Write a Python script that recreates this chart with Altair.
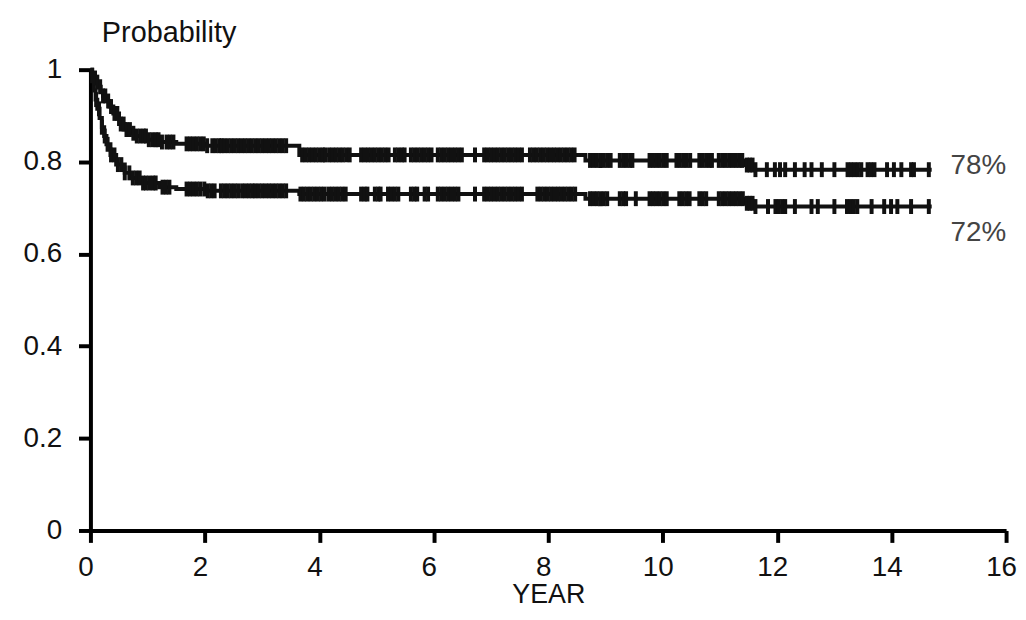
import altair as alt
import pandas as pd
import numpy as np

# Kaplan-Meier step curves (time in years, survival probability)
upper_t = [0, 0.03, 0.06, 0.1, 0.14, 0.18, 0.22, 0.27, 0.33, 0.4, 0.5, 0.6, 0.7, 0.8, 1.0, 1.2, 1.5, 2.0, 3.65, 8.65, 11.45, 11.6, 14.7]
upper_s = [1, 0.99, 0.982, 0.973, 0.963, 0.953, 0.943, 0.932, 0.92, 0.905, 0.882, 0.87, 0.862, 0.856, 0.848, 0.843, 0.839, 0.835, 0.815, 0.803, 0.793, 0.783, 0.783]

lower_t = [0, 0.03, 0.06, 0.09, 0.12, 0.16, 0.2, 0.24, 0.28, 0.35, 0.45, 0.6, 0.73, 0.9, 1.2, 1.5, 2.0, 3.65, 8.65, 11.45, 11.6, 14.7]
lower_s = [1, 0.975, 0.955, 0.935, 0.915, 0.895, 0.875, 0.856, 0.838, 0.815, 0.794, 0.776, 0.765, 0.754, 0.745, 0.741, 0.737, 0.73, 0.72, 0.71, 0.703, 0.703]

# Censoring times (tick marks on the curves)
upper_cens = [0.08, 0.12, 0.17, 0.22, 0.26, 0.31, 0.36, 0.42, 0.47, 0.53, 0.58,
              0.63, 0.69, 0.75, 0.81, 0.87, 0.93, 0.97,
              1.02, 1.08, 1.14, 1.19, 1.25, 1.33, 1.39, 1.45,
              1.68, 1.74, 1.8, 1.86, 1.92, 1.98, 2.04,
              2.13, 2.19, 2.25, 2.29,
              2.34, 2.4, 2.46, 2.52, 2.58, 2.64, 2.7, 2.76,
              2.82, 2.88, 2.94, 3.0, 3.06, 3.12, 3.18, 3.24, 3.3, 3.36, 3.42,
              3.7, 3.76, 3.82, 3.88, 3.94, 4.0, 4.06, 4.1,
              4.17, 4.23, 4.29, 4.35, 4.41, 4.47, 4.53,
              4.73, 4.79, 4.85, 4.91, 4.97, 5.03, 5.09, 5.15, 5.21,
              5.32, 5.38, 5.44, 5.49,
              5.6, 5.66, 5.72, 5.78, 5.84, 5.9, 5.96,
              6.07, 6.13, 6.19, 6.25, 6.31, 6.37, 6.43, 6.49,
              6.72,
              6.88, 6.94, 7.0, 7.06, 7.12, 7.18, 7.24, 7.3, 7.36, 7.42, 7.48, 7.54,
              7.68, 7.74, 7.8, 7.86, 7.92, 7.98, 8.04, 8.1, 8.16, 8.22, 8.28, 8.34, 8.4, 8.46,
              8.73, 8.79, 8.85, 8.91, 8.97, 9.03, 9.09,
              9.25, 9.31, 9.37, 9.43, 9.47,
              9.77, 9.83, 9.89, 9.95, 10.01, 10.07,
              10.24, 10.3, 10.36, 10.42, 10.48,
              10.64, 10.7, 10.76, 10.82, 10.86,
              10.98, 11.04, 11.1, 11.16, 11.22, 11.28, 11.34, 11.39,
              11.47, 11.52, 11.57, 11.62,
              11.82, 11.96, 12.05, 12.14, 12.31, 12.48, 12.6, 12.78, 13.0,
              13.23, 13.29, 13.35, 13.41, 13.47, 13.58, 13.64, 13.7,
              13.92, 14.04, 14.17, 14.34, 14.39, 14.65]

lower_cens = [0.1, 0.15, 0.2, 0.25, 0.3, 0.36, 0.42, 0.48, 0.54, 0.6,
              0.68, 0.74, 0.8, 0.86, 0.92, 0.97,
              1.03, 1.09, 1.14, 1.26, 1.32, 1.38,
              1.68, 1.74, 1.8, 1.86, 1.92,
              1.99, 2.05, 2.11, 2.17,
              2.28, 2.34, 2.4, 2.46, 2.52, 2.58,
              2.65, 2.71, 2.77, 2.83, 2.88,
              2.94, 3.0, 3.06, 3.12, 3.18, 3.24, 3.3, 3.36, 3.42,
              3.67, 3.73, 3.79, 3.85, 3.91, 3.97, 4.03, 4.09,
              4.16, 4.22, 4.28, 4.34, 4.4, 4.46,
              4.73, 4.79, 4.84, 4.97, 5.03, 5.07,
              5.2, 5.26, 5.32, 5.38, 5.6, 5.66, 5.71, 5.84, 5.9,
              6.07, 6.13, 6.19, 6.25, 6.31, 6.37, 6.43,
              6.72,
              6.88, 6.94, 7.0, 7.06, 7.12, 7.18, 7.24, 7.3, 7.36, 7.42, 7.48, 7.54,
              7.81, 7.87, 7.93, 7.99, 8.05, 8.11, 8.17, 8.23, 8.29, 8.35, 8.41, 8.47,
              8.73, 8.79, 8.85, 8.91, 8.97, 9.03,
              9.25, 9.31, 9.36, 9.53,
              9.77, 9.83, 9.89, 9.95, 10.01, 10.07,
              10.29, 10.35, 10.41, 10.47,
              10.64, 10.7, 10.76,
              10.98, 11.04, 11.1, 11.16, 11.22, 11.28, 11.34, 11.4,
              11.47, 11.52, 11.57, 11.62,
              11.84, 11.97, 12.03, 12.09, 12.14, 12.31, 12.6, 12.71, 13.0,
              13.22, 13.28, 13.34, 13.4, 13.65, 13.87, 13.99, 14.1, 14.34, 14.65]

x_ticks = [0, 2, 4, 6, 8, 10, 12, 14, 16]
y_ticks = [0, 0.2, 0.4, 0.6, 0.8, 1]

end_labels = ["78%", "72%"]
end_label_x = [15.03, 15.03]
end_label_y = [0.79, 0.646]

FONT = "Liberation Sans"
INK = "#111111"


def step_value(times, surv, t):
    idx = np.searchsorted(np.array(times), t, side="right") - 1
    return surv[idx]


curves = pd.concat([
    pd.DataFrame({"group": "upper", "t": upper_t, "s": upper_s}),
    pd.DataFrame({"group": "lower", "t": lower_t, "s": lower_s}),
])

cens = pd.concat([
    pd.DataFrame({"group": "upper", "t": upper_cens,
                  "s": [step_value(upper_t, upper_s, t) for t in upper_cens]}),
    pd.DataFrame({"group": "lower", "t": lower_cens,
                  "s": [step_value(lower_t, lower_s, t) for t in lower_cens]}),
])

labels = pd.DataFrame({"label": end_labels, "t": end_label_x, "s": end_label_y})

x_scale = alt.Scale(domain=[0, 16], nice=False, zero=False)
y_scale = alt.Scale(domain=[0, 1], nice=False)

x_axis = alt.Axis(values=x_ticks, format="~g", grid=False, domainColor="black", domainWidth=4,
                  tickColor="black", tickWidth=4, tickSize=12,
                  labelFont=FONT, labelFontSize=28, labelColor=INK, labelPadding=11,
                  labelFlush=False, labelOffset=-5,
                  title="YEAR", titleFont=FONT, titleFontSize=27, titleFontWeight="normal",
                  titleColor=INK, titleY=73, titleBaseline="alphabetic")

y_axis = alt.Axis(values=y_ticks, format="~g", grid=False, domainColor="black", domainWidth=4,
                  tickColor="black", tickWidth=4, tickSize=12,
                  labelFont=FONT, labelFontSize=28, labelColor=INK, labelPadding=17,
                  labelFlush=False,
                  title="Probability", titleFont=FONT, titleFontSize=29, titleFontWeight="normal",
                  titleColor=INK, titleAngle=0, titleAlign="left", titleBaseline="alphabetic",
                  titleX=11, titleY=-28)

line = alt.Chart(curves).mark_line(interpolate="step-after", color=INK, strokeWidth=4).encode(
    x=alt.X("t:Q", scale=x_scale, axis=x_axis),
    y=alt.Y("s:Q", scale=y_scale, axis=y_axis),
    detail="group:N",
)

ticks = alt.Chart(cens).mark_tick(orient="vertical", size=15, thickness=4, color=INK, opacity=1).encode(
    x=alt.X("t:Q", scale=x_scale),
    y=alt.Y("s:Q", scale=y_scale),
)

text = alt.Chart(labels).mark_text(align="left", baseline="middle", font=FONT, fontSize=28,
                                   color="#444444").encode(
    x=alt.X("t:Q", scale=x_scale),
    y=alt.Y("s:Q", scale=y_scale),
    text="label:N",
)

chart = alt.layer(line, ticks, text).properties(
    width=922, height=464,
    autosize=alt.AutoSizeParams(type="none"),
    padding={"left": 83, "top": 60, "right": 12, "bottom": 80},
    background="white",
).configure_view(stroke=None)

chart.save("out.html", embed_options={"renderer": "svg", "actions": False})
